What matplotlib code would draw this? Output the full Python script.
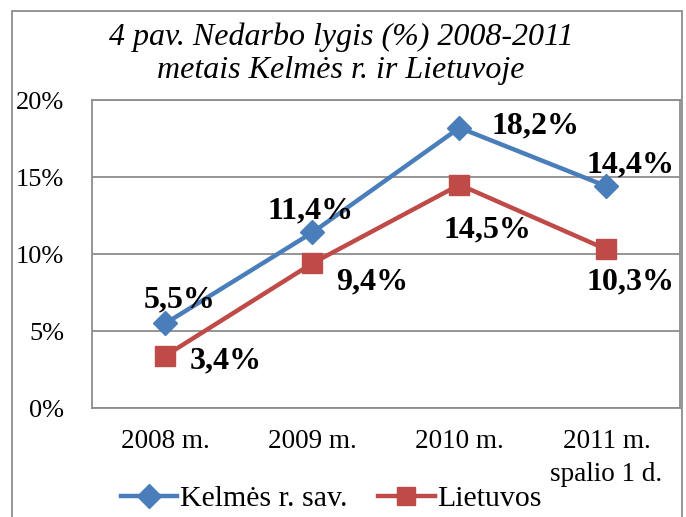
import matplotlib
matplotlib.use("Agg")
import matplotlib.pyplot as plt
from matplotlib.patches import Rectangle

plt.rcParams["font.family"] = ["Liberation Serif", "DejaVu Serif"]

# ------------------------------------------------------------
# Data
# ------------------------------------------------------------
CATEGORIES = ["2008 m.", "2009 m.", "2010 m.", "2011 m.\nspalio 1 d."]
KELME = [5.5, 11.4, 18.2, 14.4]
LIETUVA = [3.4, 9.4, 14.5, 10.3]
SERIES_NAMES = ["Kelmės r. sav.", "Lietuvos"]
Y_TICKS = [0, 5, 10, 15, 20]

BLUE = "#4A7EBB"
RED = "#BE4B48"
GRID = "#8C8C8C"

# label offsets in pixels (hand placed, like in the original)
K_OFFS = [(14, 23), (-2, 22), (76, 2), (24, 21)]
L_OFFS = [(60, -5), (60, -19), (28, -45), (24, -32)]

fig = plt.figure(figsize=(6.86, 5.17), dpi=100)
ax = fig.add_axes([0.1341, 0.2108, 0.8571, 0.5957])

x = list(range(len(CATEGORIES)))
ax.plot(x, KELME, color=BLUE, lw=3.2, marker="D", ms=12.5, mec=BLUE,
        label=SERIES_NAMES[0], zorder=3)
ax.plot(x, LIETUVA, color=RED, lw=3.2, marker="s", ms=14, mec=RED,
        label=SERIES_NAMES[1], zorder=3)

for xi, v, off in zip(x, KELME, K_OFFS):
    ax.annotate(f"{v:.1f}%".replace(".", ","), (xi, v), xytext=off,
                textcoords="offset pixels", ha="center", va="center",
                fontsize=23, fontweight="bold", zorder=4)
for xi, v, off in zip(x, LIETUVA, L_OFFS):
    ax.annotate(f"{v:.1f}%".replace(".", ","), (xi, v), xytext=off,
                textcoords="offset pixels", ha="center", va="center",
                fontsize=23, fontweight="bold", zorder=4)

ax.set_xlim(-0.5, len(CATEGORIES) - 0.5)
ax.set_ylim(0, 20)
ax.set_yticks(Y_TICKS)
ax.set_yticklabels([f"{t}%" for t in Y_TICKS], fontsize=19)
ax.set_xticks(x)
ax.set_xticklabels(CATEGORIES, fontsize=19.5)
for lbl in ax.get_xticklabels():
    lbl.set_linespacing(1.45)
ax.tick_params(axis="both", length=0)
ax.tick_params(axis="x", pad=15)
ax.tick_params(axis="y", pad=20)
ax.grid(axis="y", color=GRID, lw=1.3)
for sp in ax.spines.values():
    sp.set_color(GRID)
    sp.set_linewidth(1.3)

fig.text(0.497, 0.896, "4 pav. Nedarbo lygis (%) 2008-2011\nmetais Kelmės r. ir Lietuvoje",
         ha="center", va="center", fontsize=23, style="italic", linespacing=1.2)

fig.legend(loc="center", bbox_to_anchor=(0.483, 0.035), ncol=2, frameon=False,
           fontsize=21.5, handlelength=1.9, handletextpad=0.1, columnspacing=1.0,
           borderaxespad=0, markerscale=0.95)

# outer chart frame (bottom edge is cut off in the original)
fig.patches.append(Rectangle((12 / 686, -0.1), 670 / 686, 1.1 - 11 / 517,
                             transform=fig.transFigure, fill=False,
                             ec=GRID, lw=1.3))

fig.savefig("out.png", dpi=100)
